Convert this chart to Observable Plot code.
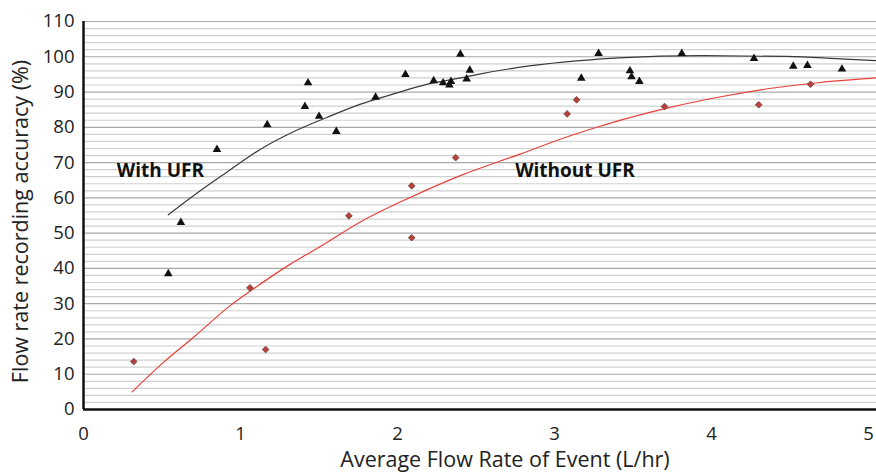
<!DOCTYPE html>
<html>
<head>
<meta charset="utf-8">
<script src="https://cdn.jsdelivr.net/npm/d3@7"></script>
<script src="https://cdn.jsdelivr.net/npm/@observablehq/plot@0.6"></script>
<style>
  html, body { margin: 0; padding: 0; background: #fff; }
</style>
</head>
<body>
<div id="chart"></div>
<script>
// With UFR (triangles)
const withX = [0.54, 0.62, 0.85, 1.17, 1.43, 1.41, 1.50, 1.61, 1.86, 2.05, 2.23, 2.29, 2.33, 2.34, 2.40, 2.46, 2.44, 3.28, 3.17, 3.48, 3.49, 3.54, 3.81, 4.27, 4.52, 4.61, 4.83];
const withY = [38.5, 53, 73.7, 80.7, 92.6, 85.9, 83.1, 78.8, 88.5, 95, 93.2, 92.6, 92.0, 93.0, 100.7, 96.2, 93.7, 100.9, 93.9, 96, 94.3, 93, 100.9, 99.5, 97.3, 97.5, 96.5];
// Without UFR (diamonds)
const withoutX = [0.32, 1.06, 1.16, 1.69, 2.09, 2.09, 2.37, 3.08, 3.14, 3.70, 4.30, 4.63];
const withoutY = [13.6, 34.5, 17, 54.9, 63.4, 48.7, 71.4, 83.8, 87.8, 85.9, 86.4, 92.2];
// Trend lines
const trendWithX = [0.54, 0.70, 0.91, 1.12, 1.33, 1.55, 1.76, 1.97, 2.18, 2.40, 2.52, 2.84, 3.16, 3.41, 3.94, 4.48, 4.79, 5.05];
const trendWithY = [55.2, 60.6, 67.2, 73.6, 78.6, 82.8, 86.5, 89.4, 92.1, 94.0, 95.1, 97.4, 98.9, 99.7, 100.3, 100.1, 99.5, 98.9];
const trendWithoutX = [0.31, 0.50, 0.72, 0.93, 1.06, 1.31, 1.53, 1.76, 2.08, 2.40, 2.78, 3.10, 3.29, 3.41, 3.73, 4.05, 4.37, 4.69, 5.05];
const trendWithoutY = [5.0, 13.0, 21.2, 29.3, 33.5, 41.0, 46.8, 53.1, 60.1, 66.3, 72.4, 77.6, 80.3, 81.9, 85.6, 88.6, 91.0, 92.7, 94.0];
// Ticks & labels
const xTicks = [0, 1, 2, 3, 4, 5];
const yTicks = [0, 10, 20, 30, 40, 50, 60, 70, 80, 90, 100, 110];
const minorY = d3.range(2, 110, 2).filter(v => v % 10 !== 0);
const seriesLabels = ["With UFR", "Without UFR"];
const labelX = [0.49, 3.13];
const labelY = [67.7, 67.7];
const xLabel = "Average Flow Rate of Event (L/hr)";
const yLabel = "Flow rate recording accuracy (%)";

const ptsWith = withX.map((x, i) => ({x, y: withY[i]}));
const ptsWithout = withoutX.map((x, i) => ({x, y: withoutY[i]}));
const lineWith = trendWithX.map((x, i) => ({x, y: trendWithY[i]}));
const lineWithout = trendWithoutX.map((x, i) => ({x, y: trendWithoutY[i]}));
const labels = seriesLabels.map((t, i) => ({t, x: labelX[i], y: labelY[i]}));

const chart = Plot.plot({
  width: 876,
  height: 476,
  marginLeft: 83,
  marginRight: 0,
  marginTop: 21,
  marginBottom: 67,
  style: {fontFamily: "'Open Sans', sans-serif", fontSize: "18px", color: "#222", background: "#fff"},
  x: {domain: [0, 5.05]},
  y: {domain: [0, 110]},
  marks: [
    Plot.ruleY(minorY, {stroke: "#d0d0d0", strokeWidth: 1.2}),
    Plot.ruleY(yTicks.filter(v => v > 0), {stroke: "#a8a8a8", strokeWidth: 1.2}),
    Plot.axisX({ticks: xTicks, tickSize: 0, tickPadding: 17, tickFormat: d3.format("d"), label: null, fontSize: 18.5}),
    Plot.axisY({ticks: yTicks, tickSize: 0, tickPadding: 9, tickFormat: d3.format("d"), label: null, fontSize: 18.5}),
    Plot.text([xLabel], {frameAnchor: "bottom", dx: 25, dy: 57, fontSize: 21.5, fill: "#222"}),
    Plot.text([yLabel], {frameAnchor: "left", textAnchor: "middle", dx: -62, dy: 6, rotate: -90, fontSize: 21.5, fill: "#222"}),
    Plot.line(lineWith, {x: "x", y: "y", stroke: "#3a3a3a", strokeWidth: 1.2, curve: "monotone-x"}),
    Plot.line(lineWithout, {x: "x", y: "y", stroke: "#e8403a", strokeWidth: 1.2, curve: "monotone-x"}),
    Plot.dot(ptsWith, {x: "x", y: "y", symbol: "triangle", r: 3.2, fill: "#111", stroke: "none"}),
    Plot.dot(ptsWithout, {x: "x", y: "y", symbol: "diamond2", r: 3, fill: "#b8413b", stroke: "#6a3a36", strokeWidth: 0.8}),
    Plot.text(labels, {x: "x", y: "y", text: "t", fontSize: 19, fontWeight: "bold", fill: "#111"}),
    Plot.ruleX([0], {stroke: "#111", strokeWidth: 2.5}),
    Plot.ruleY([0], {stroke: "#111", strokeWidth: 2.5})
  ]
});
document.getElementById("chart").appendChild(chart);
</script>
</body>
</html>
